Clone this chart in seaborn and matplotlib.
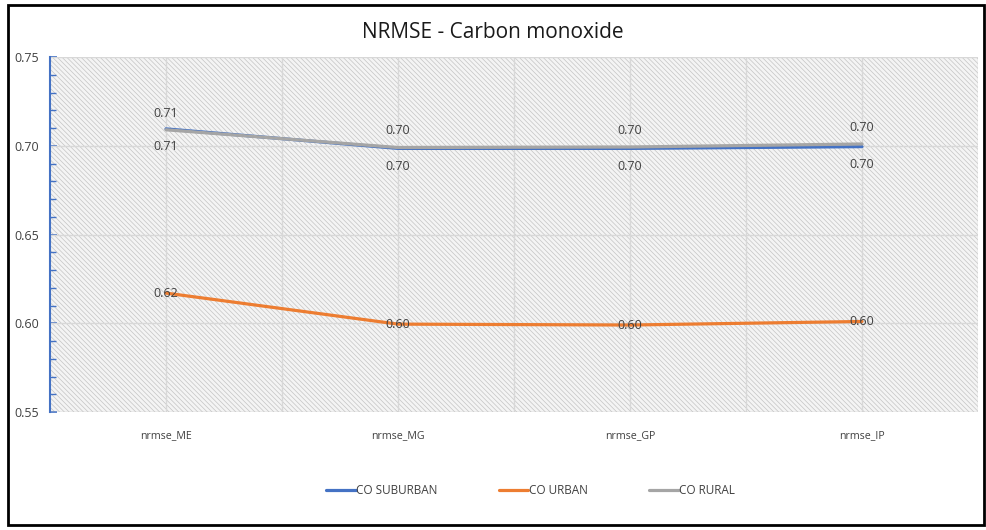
import matplotlib
matplotlib.use("Agg")
import matplotlib.pyplot as plt
import seaborn as sns
import pandas as pd
from matplotlib.patches import Rectangle
from matplotlib.ticker import MultipleLocator, FormatStrFormatter

categories = ["nrmse_ME", "nrmse_MG", "nrmse_GP", "nrmse_IP"]
suburban = [0.7095, 0.6985, 0.6985, 0.6995]
urban = [0.6170, 0.5995, 0.5990, 0.6010]
rural = [0.7090, 0.6990, 0.6993, 0.7010]
series_names = ["CO SUBURBAN", "CO URBAN", "CO RURAL"]
colors = ["#4472C4", "#ED7D31", "#A5A5A5"]

rows = []
for name, vals in zip(series_names, [suburban, urban, rural]):
    for c, v in zip(categories, vals):
        rows.append({"cat": c, "val": v, "series": name})
df = pd.DataFrame(rows)

sns.set_style("white")
plt.rcParams["font.family"] = ["Open Sans", "DejaVu Sans"]
plt.rcParams["hatch.linewidth"] = 0.5
plt.rcParams["hatch.color"] = "#c4c4c4"

fig = plt.figure(figsize=(9.86, 5.30), dpi=100)
ax = fig.add_axes([50/986, 1-412/530, 928/986, 355/530])

# hatched background
bg = Rectangle((0, 0), 1, 1, transform=ax.transAxes, facecolor="#f4f4f4",
               hatch="\\\\\\\\\\\\\\", edgecolor="#c4c4c4", lw=0, zorder=0)
ax.add_patch(bg)

sns.lineplot(data=df, x="cat", y="val", hue="series", palette=colors,
             hue_order=series_names, linewidth=2.3, ax=ax, sort=False, zorder=3)

ax.set_xlim(-0.5, 3.5)
ax.set_ylim(0.55, 0.75)
ax.yaxis.set_major_locator(MultipleLocator(0.05))
ax.yaxis.set_minor_locator(MultipleLocator(0.01))
ax.yaxis.set_major_formatter(FormatStrFormatter("%.2f"))

# gridlines
for y in [0.60, 0.65, 0.70, 0.75]:
    ax.axhline(y, color="#d8d8d8", lw=1, zorder=1)
for x in [0, 0.5, 1, 1.5, 2, 2.5, 3, 3.5]:
    ax.axvline(x, color="#d8d8d8", lw=1, zorder=1)
ax.axhline(0.55, color="#c8c8c8", lw=1, zorder=1)

for s in ["top", "right", "bottom"]:
    ax.spines[s].set_visible(False)
ax.spines["left"].set_color("#4472C4")
ax.spines["left"].set_linewidth(1.5)
ax.tick_params(axis="y", which="major", left=True, length=5, width=1.2, color="#4472C4",
               labelsize=9, labelcolor="#404040", pad=26, direction="in")
ax.tick_params(axis="y", which="minor", left=True, length=4, width=1.0, color="#4472C4", direction="in")
for lab in ax.get_yticklabels():
    lab.set_horizontalalignment("left")
ax.tick_params(axis="x", length=0, labelsize=7.7, labelcolor="#404040", pad=13)
ax.set_xlabel("")
ax.set_ylabel("")

# data labels
lab_kw = dict(fontsize=9, color="#404040", ha="center", va="center", zorder=5)
for i, v in enumerate(rural):
    ax.annotate(f"{v:.2f}", (i, v), xytext=(0, 12), textcoords="offset points", **lab_kw)
for i, v in enumerate(suburban):
    ax.annotate(f"{v:.2f}", (i, v), xytext=(0, -13), textcoords="offset points", **lab_kw)
for i, v in enumerate(urban):
    ax.annotate(f"{v:.2f}", (i, v), xytext=(0, 0), textcoords="offset points", **lab_kw)

leg = ax.legend(loc="center", bbox_to_anchor=(0.518, 1 - (491 - 57) / 355), ncol=3,
                frameon=False, fontsize=8.5, handlelength=2.5, handletextpad=0.05,
                columnspacing=5.2, labelcolor="#404040")
for h in leg.get_lines():
    h.set_linewidth(2.3)

fig.suptitle("NRMSE - Carbon monoxide", x=0.5, y=1 - 32/530, va="center",
             fontsize=15, color="#1a1a1a")

# figure frame
fig.patches.append(Rectangle((8/986, 5/530), 976/986, 520/530, transform=fig.transFigure,
                             fill=False, edgecolor="black", lw=2))

fig.savefig("out.png", dpi=100)
